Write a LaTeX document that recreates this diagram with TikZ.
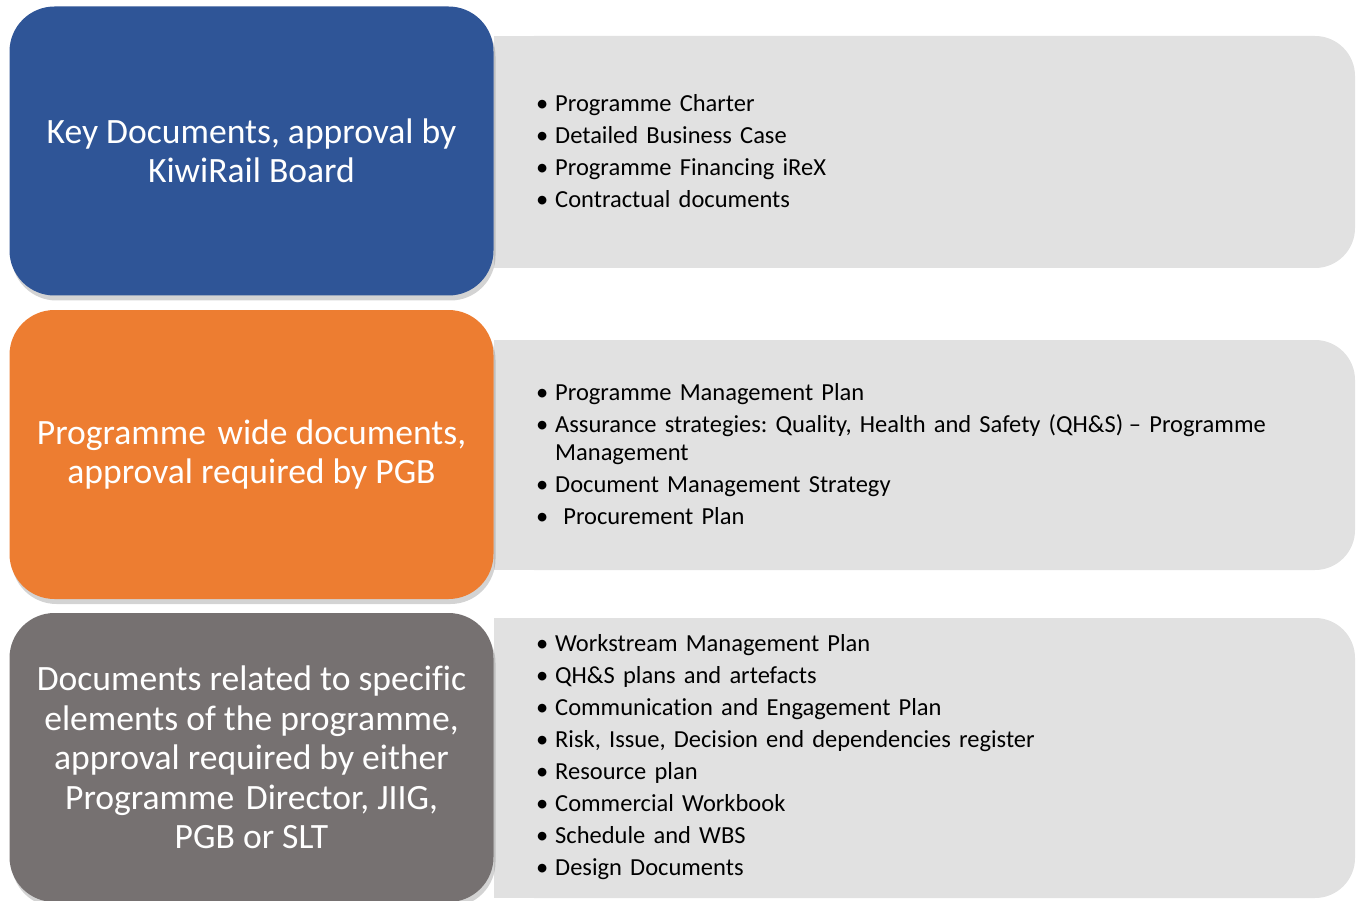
\documentclass[tikz,border=0pt]{standalone}
\usepackage{fontspec}
\setmainfont{Carlito}[Ligatures=NoCommon]
\usetikzlibrary{shadows}
\definecolor{kiwiblue}{HTML}{2F5597}
\definecolor{kiwiorange}{HTML}{ED7D31}
\definecolor{kiwigrey}{HTML}{767171}
\definecolor{panelgrey}{HTML}{E1E1E1}
\frenchspacing
\newcommand{\itm}[1]{\setlength{\parskip}{4pt}\hangindent=19pt\hangafter=1\noindent\makebox[19pt][l]{\textbullet}#1\par}
\begin{document}
\begin{tikzpicture}[x=1pt,y=-1pt,
  level box/.style={rectangle,rounded corners=45pt,minimum width=484pt,minimum height=289pt,
    text=white,align=center,font=\fontsize{35.6}{39.5}\selectfont,
    drop shadow={shadow xshift=2pt,shadow yshift=-5pt,opacity=0.35}},
  doc list/.style={anchor=west,inner sep=0pt,text width=770pt,align=left,
    font=\fontsize{24.5}{28}\selectfont}]%
  \useasboundingbox (0,0) rectangle (1357,901);
  \pgfmathsetmacro{\panelx}{494}
  \foreach \t/\b in {36/268,340/570,618/898} {
    \fill[panelgrey,rounded corners=40pt] (\panelx,\t) rectangle (1355,\b);
    \fill[panelgrey] (\panelx,\t) rectangle (1300,\b);
  }
  \node[level box,fill=kiwiblue] (key) at (251.5,151) {Key Documents, approval by\\KiwiRail Board};
  \node[level box,fill=kiwiorange] (wide) at (251.5,454.5) {Programme\hspace{0.1em} wide documents,\\approval required by PGB};
  \node[level box,fill=kiwigrey] (specific) at (251.5,757.5) {Documents related to specific\\elements of the programme,\\approval required by either\\Programme\hspace{0.1em} Director, JIIG,\\PGB or SLT};

  \node[doc list] (keylist) at (536,151) {\itm{Programme Charter}\itm{Detailed Business Case}\itm{Programme Financing iReX}\itm{Contractual documents}};
  \node[doc list] (widelist) at (536,454) {\itm{Programme Management Plan}\itm{Assurance strategies: Quality, Health and Safety (QH\&S)\hspace{-0.1em} – Programme Management}\itm{Document Management Strategy}\itm{\ Procurement Plan}};
  \node[doc list] (specificlist) at (536,757) {\itm{Workstream Management Plan}\itm{QH\&S plans and artefacts}\itm{Communication and Engagement Plan}\itm{Risk, Issue, Decision end dependencies register}\itm{Resource plan}\itm{Commercial Workbook}\itm{Schedule and WBS}\itm{Design Documents}};
\end{tikzpicture}
\end{document}
